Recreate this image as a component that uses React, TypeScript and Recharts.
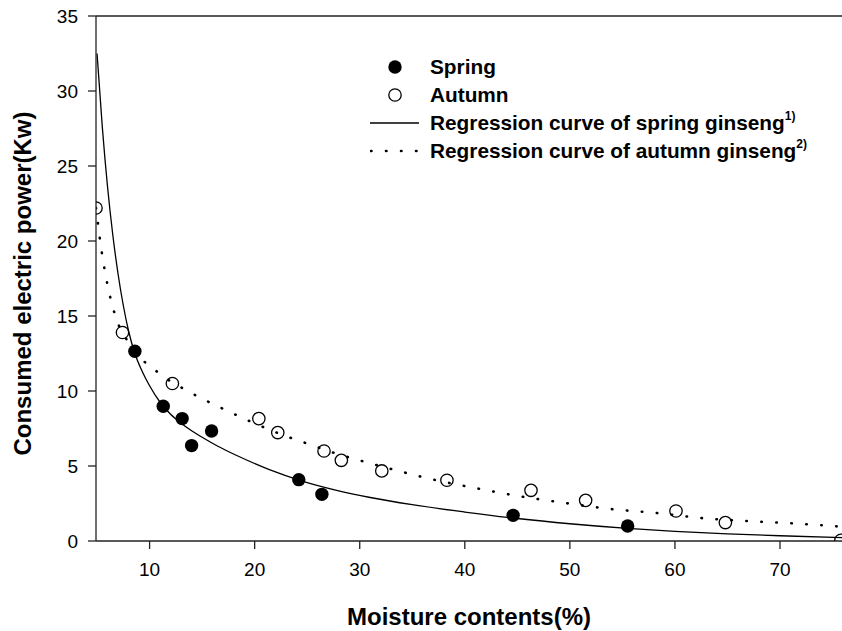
import React from 'react';
import {
  ComposedChart,
  Line,
  Scatter,
  XAxis,
  YAxis,
  Legend,
  Label,
  ReferenceLine,
} from 'recharts';

const FONT = "Arial, 'Liberation Sans', Helvetica, sans-serif";

// measured points
const springMoisture = [8.6, 11.3, 13.1, 14.0, 15.9, 24.2, 26.4, 44.6, 55.5];
const springPower = [12.65, 8.98, 8.16, 6.36, 7.33, 4.09, 3.11, 1.71, 1.0];

const autumnMoisture = [4.9, 7.42, 12.17, 20.4, 22.2, 26.6, 28.25, 32.1, 38.3, 46.3, 51.5, 60.1, 64.8, 75.8];
const autumnPower = [22.2, 13.9, 10.5, 8.16, 7.23, 6.0, 5.38, 4.67, 4.05, 3.38, 2.71, 2.0, 1.23, 0.05];

// regression curves
const springCurveX = [5, 5.5, 6, 6.5, 7, 7.5, 8, 8.6, 9.3, 10, 11, 12, 13, 14, 15, 16.5, 18.3, 21.4, 24.6, 27.8, 31, 35, 40, 45, 50, 55.5, 60, 65, 70, 75.9];
const springCurveY = [32.5, 27.6, 23.6, 20.4, 17.8, 15.7, 14.0, 12.5, 11.3, 10.35, 9.25, 8.45, 7.85, 7.35, 6.92, 6.32, 5.7, 4.76, 3.98, 3.38, 2.9, 2.42, 1.93, 1.5, 1.15, 0.84, 0.64, 0.48, 0.35, 0.23];

const autumnCurveX = [4.9, 5.46, 5.96, 6.7, 8.12, 10.74, 13.6, 16.5, 19.4, 22.2, 25.1, 28.0, 30.9, 33.8, 36.6, 41.0, 45.25, 49.6, 53.9, 58.2, 62.5, 66.9, 71.1, 75.9];
const autumnCurveY = [22.2, 19.2, 17.2, 15.1, 13.1, 11.27, 10.0, 8.98, 8.03, 7.2, 6.47, 5.78, 5.2, 4.65, 4.16, 3.53, 2.98, 2.53, 2.13, 1.87, 1.53, 1.33, 1.18, 0.95];

const xTicks = [10, 20, 30, 40, 50, 60, 70];
const yTicks = [0, 5, 10, 15, 20, 25, 30, 35];

const toPoints = (xs: number[], ys: number[]) => xs.map((x, i) => ({ x, y: ys[i] }));

const springData = toPoints(springMoisture, springPower);
const autumnData = toPoints(autumnMoisture, autumnPower);
const springCurve = toPoints(springCurveX, springCurveY);
const autumnCurve = toPoints(autumnCurveX, autumnCurveY);

const AXIS = '#222';
const DOTS = '0.5 14.5';

const FilledDot = (p: any) => <circle cx={p.cx} cy={p.cy} r={6.7} fill="#000" />;
const OpenDot = (p: any) => <circle cx={p.cx} cy={p.cy} r={6.2} fill="none" stroke="#000" strokeWidth={1.3} />;

const legendRows = [
  { key: 'spring', label: 'Spring', sup: '' },
  { key: 'autumn', label: 'Autumn', sup: '' },
  { key: 'springCurve', label: 'Regression curve of spring ginseng', sup: '1)' },
  { key: 'autumnCurve', label: 'Regression curve of autumn ginseng', sup: '2)' },
];

const LegendMarker = ({ kind }: { kind: string }) => (
  <svg width={50} height={28} style={{ display: 'block' }}>
    {kind === 'spring' && <circle cx={25} cy={14} r={6.7} fill="#000" />}
    {kind === 'autumn' && <circle cx={25} cy={14} r={6.2} fill="none" stroke="#000" strokeWidth={1.3} />}
    {kind === 'springCurve' && <line x1={0} x2={49} y1={14} y2={14} stroke="#000" strokeWidth={1.3} />}
    {kind === 'autumnCurve' && (
      <line x1={1} x2={49} y1={14} y2={14} stroke="#000" strokeWidth={2.6} strokeDasharray={DOTS} strokeLinecap="round" />
    )}
  </svg>
);

const renderLegend = () => (
  <div style={{ fontFamily: FONT, fontWeight: 'bold', fontSize: 20.8, color: '#000' }}>
    {legendRows.map((r) => (
      <div key={r.key} style={{ display: 'flex', alignItems: 'center', height: 28 }}>
        <LegendMarker kind={r.key} />
        <span style={{ marginLeft: 10, whiteSpace: 'nowrap', lineHeight: '28px' }}>
          {r.label}
          {r.sup && <sup style={{ fontSize: 12, lineHeight: 0, verticalAlign: 10 }}>{r.sup}</sup>}
        </span>
      </div>
    ))}
  </div>
);

const YTitle = (props: any) => {
  const { viewBox } = props;
  const cx = viewBox.x + 31;
  const cy = viewBox.y + viewBox.height / 2 + 5;
  return (
    <text
      x={cx}
      y={cy}
      transform={`rotate(-90, ${cx}, ${cy})`}
      textAnchor="middle"
      fontFamily={FONT}
      fontWeight="bold"
      fontSize={24}
      fill="#000"
    >
      Consumed electric power(Kw)
    </text>
  );
};

const App: React.FC = () => {
  return (
    <div style={{ position: 'absolute', left: 0, top: 0, width: 842, height: 631, background: '#fff' }}>
      <ComposedChart width={842} height={631} margin={{ top: 16, right: 0, bottom: 0, left: 0 }}>
        <XAxis
          type="number"
          dataKey="x"
          domain={[4.9, 75.9]}
          ticks={xTicks}
          allowDataOverflow
          height={90}
          tickSize={8}
          tickMargin={14}
          stroke={AXIS}
          strokeWidth={1.3}
          tick={{ fill: '#000', fontSize: 19, fontFamily: FONT }}
        >
          <Label
            value="Moisture contents(%)"
            position="insideBottom"
            offset={6}
            style={{ fontFamily: FONT, fontWeight: 'bold', fontSize: 24, fill: '#000' }}
          />
        </XAxis>
        <YAxis
          type="number"
          dataKey="y"
          domain={[0, 35]}
          ticks={yTicks}
          allowDataOverflow
          width={96}
          tickSize={8}
          tickMargin={10}
          stroke={AXIS}
          strokeWidth={1.3}
          tick={{ fill: '#000', fontSize: 19, fontFamily: FONT }}
        >
          <Label content={YTitle} />
        </YAxis>
        <ReferenceLine y={35} stroke={AXIS} strokeWidth={1.3} />
        <Legend
          layout="vertical"
          align="center"
          verticalAlign="middle"
          content={renderLegend}
          wrapperStyle={{ left: 370, top: 53, width: 460 }}
        />
        <Line
          data={springCurve}
          dataKey="y"
          type="monotone"
          stroke="#000"
          strokeWidth={1.3}
          dot={false}
          activeDot={false}
          isAnimationActive={false}
        />
        <Line
          data={autumnCurve}
          dataKey="y"
          type="monotone"
          stroke="#000"
          strokeWidth={2.6}
          strokeDasharray={DOTS}
          strokeLinecap="round"
          dot={false}
          activeDot={false}
          isAnimationActive={false}
        />
        <Scatter data={springData} dataKey="y" shape={FilledDot} isAnimationActive={false} />
        <Scatter data={autumnData} dataKey="y" shape={OpenDot} isAnimationActive={false} />
      </ComposedChart>
    </div>
  );
};

export default App;
